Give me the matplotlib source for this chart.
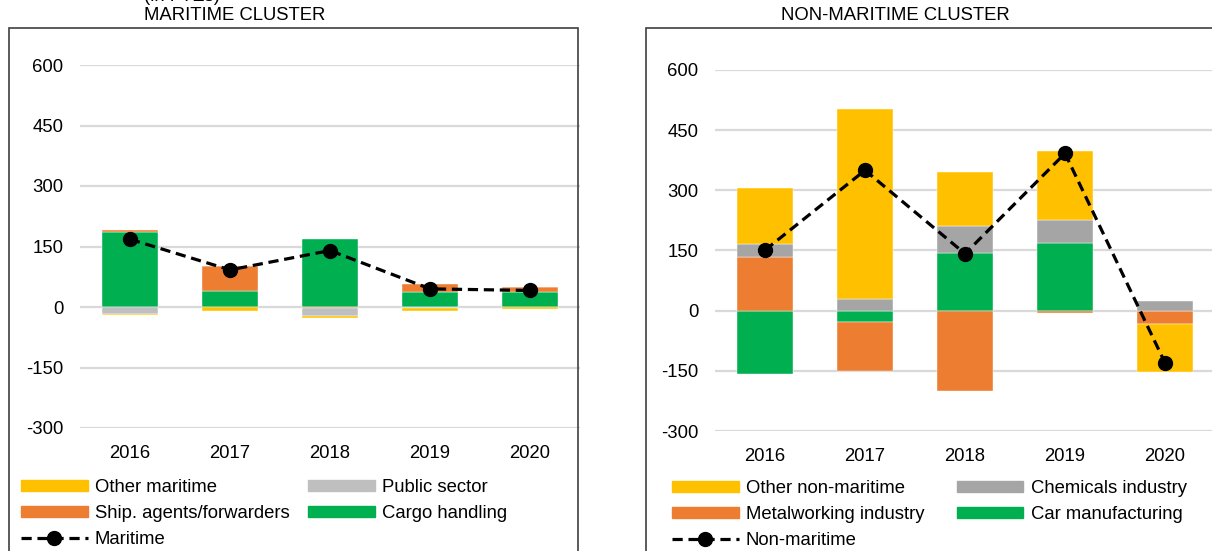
import matplotlib.pyplot as plt
import numpy as np
from matplotlib.patches import Patch, Rectangle
from matplotlib.lines import Line2D

plt.rcParams['font.family'] = ['Liberation Sans', 'DejaVu Sans']
plt.rcParams['axes.unicode_minus'] = False

years = ['2016', '2017', '2018', '2019', '2020']

# maritime cluster (FTEs)
cargo_handling = [187, 39, 168, 38, 38]
ship_agents = [4, 62, -3, 19, 11]
public_sector = [-17, 0, -20, -2, 0]
other_maritime = [-3, -9, -5, -8, -6]
maritime_total = [168, 92, 140, 45, 41]

# non-maritime cluster (FTEs)
car_manufacturing = [-157, -28, 143, 168, -2]
metalworking = [133, -122, -201, -7, -30]
chemicals = [33, 29, 67, 58, 25]
other_non_maritime = [141, 473, 135, 172, -122]
non_maritime_total = [151, 350, 142, 392, -130]

YELLOW = '#FFC000'
ORANGE = '#ED7D31'
GREEN = '#00B050'
GRID = '#D9D9D9'
FS = 13.3

W, H = 1212, 551
fig = plt.figure(figsize=(W / 100, H / 100), dpi=100)


def stacked(ax, series, colors, total):
    x = np.arange(len(years))
    pos = np.zeros(len(years))
    neg = np.zeros(len(years))
    for vals, c in zip(series, colors):
        v = np.array(vals, dtype=float)
        bottom = np.where(v >= 0, pos, neg)
        ax.bar(x, v, 0.565, bottom=bottom, color=c, edgecolor='white',
               linewidth=0.3, zorder=2)
        pos = pos + np.clip(v, 0, None)
        neg = neg + np.clip(v, None, 0)
    ax.plot(x, total, color='black', lw=2.3, ls=(0, (3.2, 1.8)),
            marker='o', ms=10, zorder=3)
    ax.set_xlim(-0.5, 4.5)
    ax.set_ylim(-300, 600)
    ax.set_yticks([-300, -150, 0, 150, 300, 450, 600])
    ax.set_xticks(x)
    ax.set_xticklabels(years)
    ax.yaxis.grid(True, color=GRID, lw=1.6, zorder=0)
    ax.set_axisbelow(True)
    for s in ax.spines.values():
        s.set_visible(False)
    ax.tick_params(axis='y', length=0, pad=12, labelsize=FS)
    ax.tick_params(axis='x', length=0, pad=12, labelsize=FS)


ax1 = fig.add_axes([80 / W, 1 - 428 / H, 500 / W, 363 / H])
stacked(ax1, [cargo_handling, ship_agents, public_sector, other_maritime],
        [GREEN, ORANGE, '#BFBFBF', YELLOW], maritime_total)

ax2 = fig.add_axes([715 / W, 1 - 431 / H, 500 / W, 361 / H])
stacked(ax2, [car_manufacturing, metalworking, chemicals, other_non_maritime],
        [GREEN, ORANGE, '#A5A5A5', YELLOW], non_maritime_total)

# chart borders
fig.add_artist(Rectangle((9 / W, -0.05), 569 / W, 1.05 - 28 / H,
                         transform=fig.transFigure, fill=False,
                         edgecolor='#404040', lw=1.2))
fig.add_artist(Rectangle((646 / W, -0.05), 600 / W, 1.05 - 28 / H,
                         transform=fig.transFigure, fill=False,
                         edgecolor='#404040', lw=1.2))

fig.text(144 / W, 1 - 1 / H, '(in FTEs)', fontsize=FS, ha='left', va='baseline')
fig.text(235 / W, 1 - 16 / H, 'MARITIME CLUSTER', fontsize=FS, ha='center', va='center')
fig.text(895 / W, 1 - 16 / H, 'NON-MARITIME CLUSTER', fontsize=FS, ha='center', va='center')


def line_handle(label):
    return Line2D([], [], color='black', lw=2.3, ls=(0, (3.2, 1.8)),
                  marker='o', ms=10, label=label)


h1 = [Patch(color=YELLOW, label='Other maritime'),
      Patch(color=ORANGE, label='Ship. agents/forwarders'),
      line_handle('Maritime'),
      Patch(color='#BFBFBF', label='Public sector'),
      Patch(color=GREEN, label='Cargo handling')]
h2 = [Patch(color=YELLOW, label='Other non-maritime'),
      Patch(color=ORANGE, label='Metalworking industry'),
      line_handle('Non-maritime'),
      Patch(color='#A5A5A5', label='Chemicals industry'),
      Patch(color=GREEN, label='Car manufacturing')]

common = dict(ncol=2, frameon=False, loc='upper left', fontsize=FS,
              handlelength=3.6, handleheight=0.55, handletextpad=0.4,
              labelspacing=0.5, borderpad=0, borderaxespad=0)
fig.legend(handles=h1, bbox_to_anchor=(21 / W, 1 - 479 / H),
           columnspacing=1.0, **common)
fig.legend(handles=h2, bbox_to_anchor=(672 / W, 1 - 480 / H),
           columnspacing=1.75, **common)

fig.savefig('out.png', dpi=100)
